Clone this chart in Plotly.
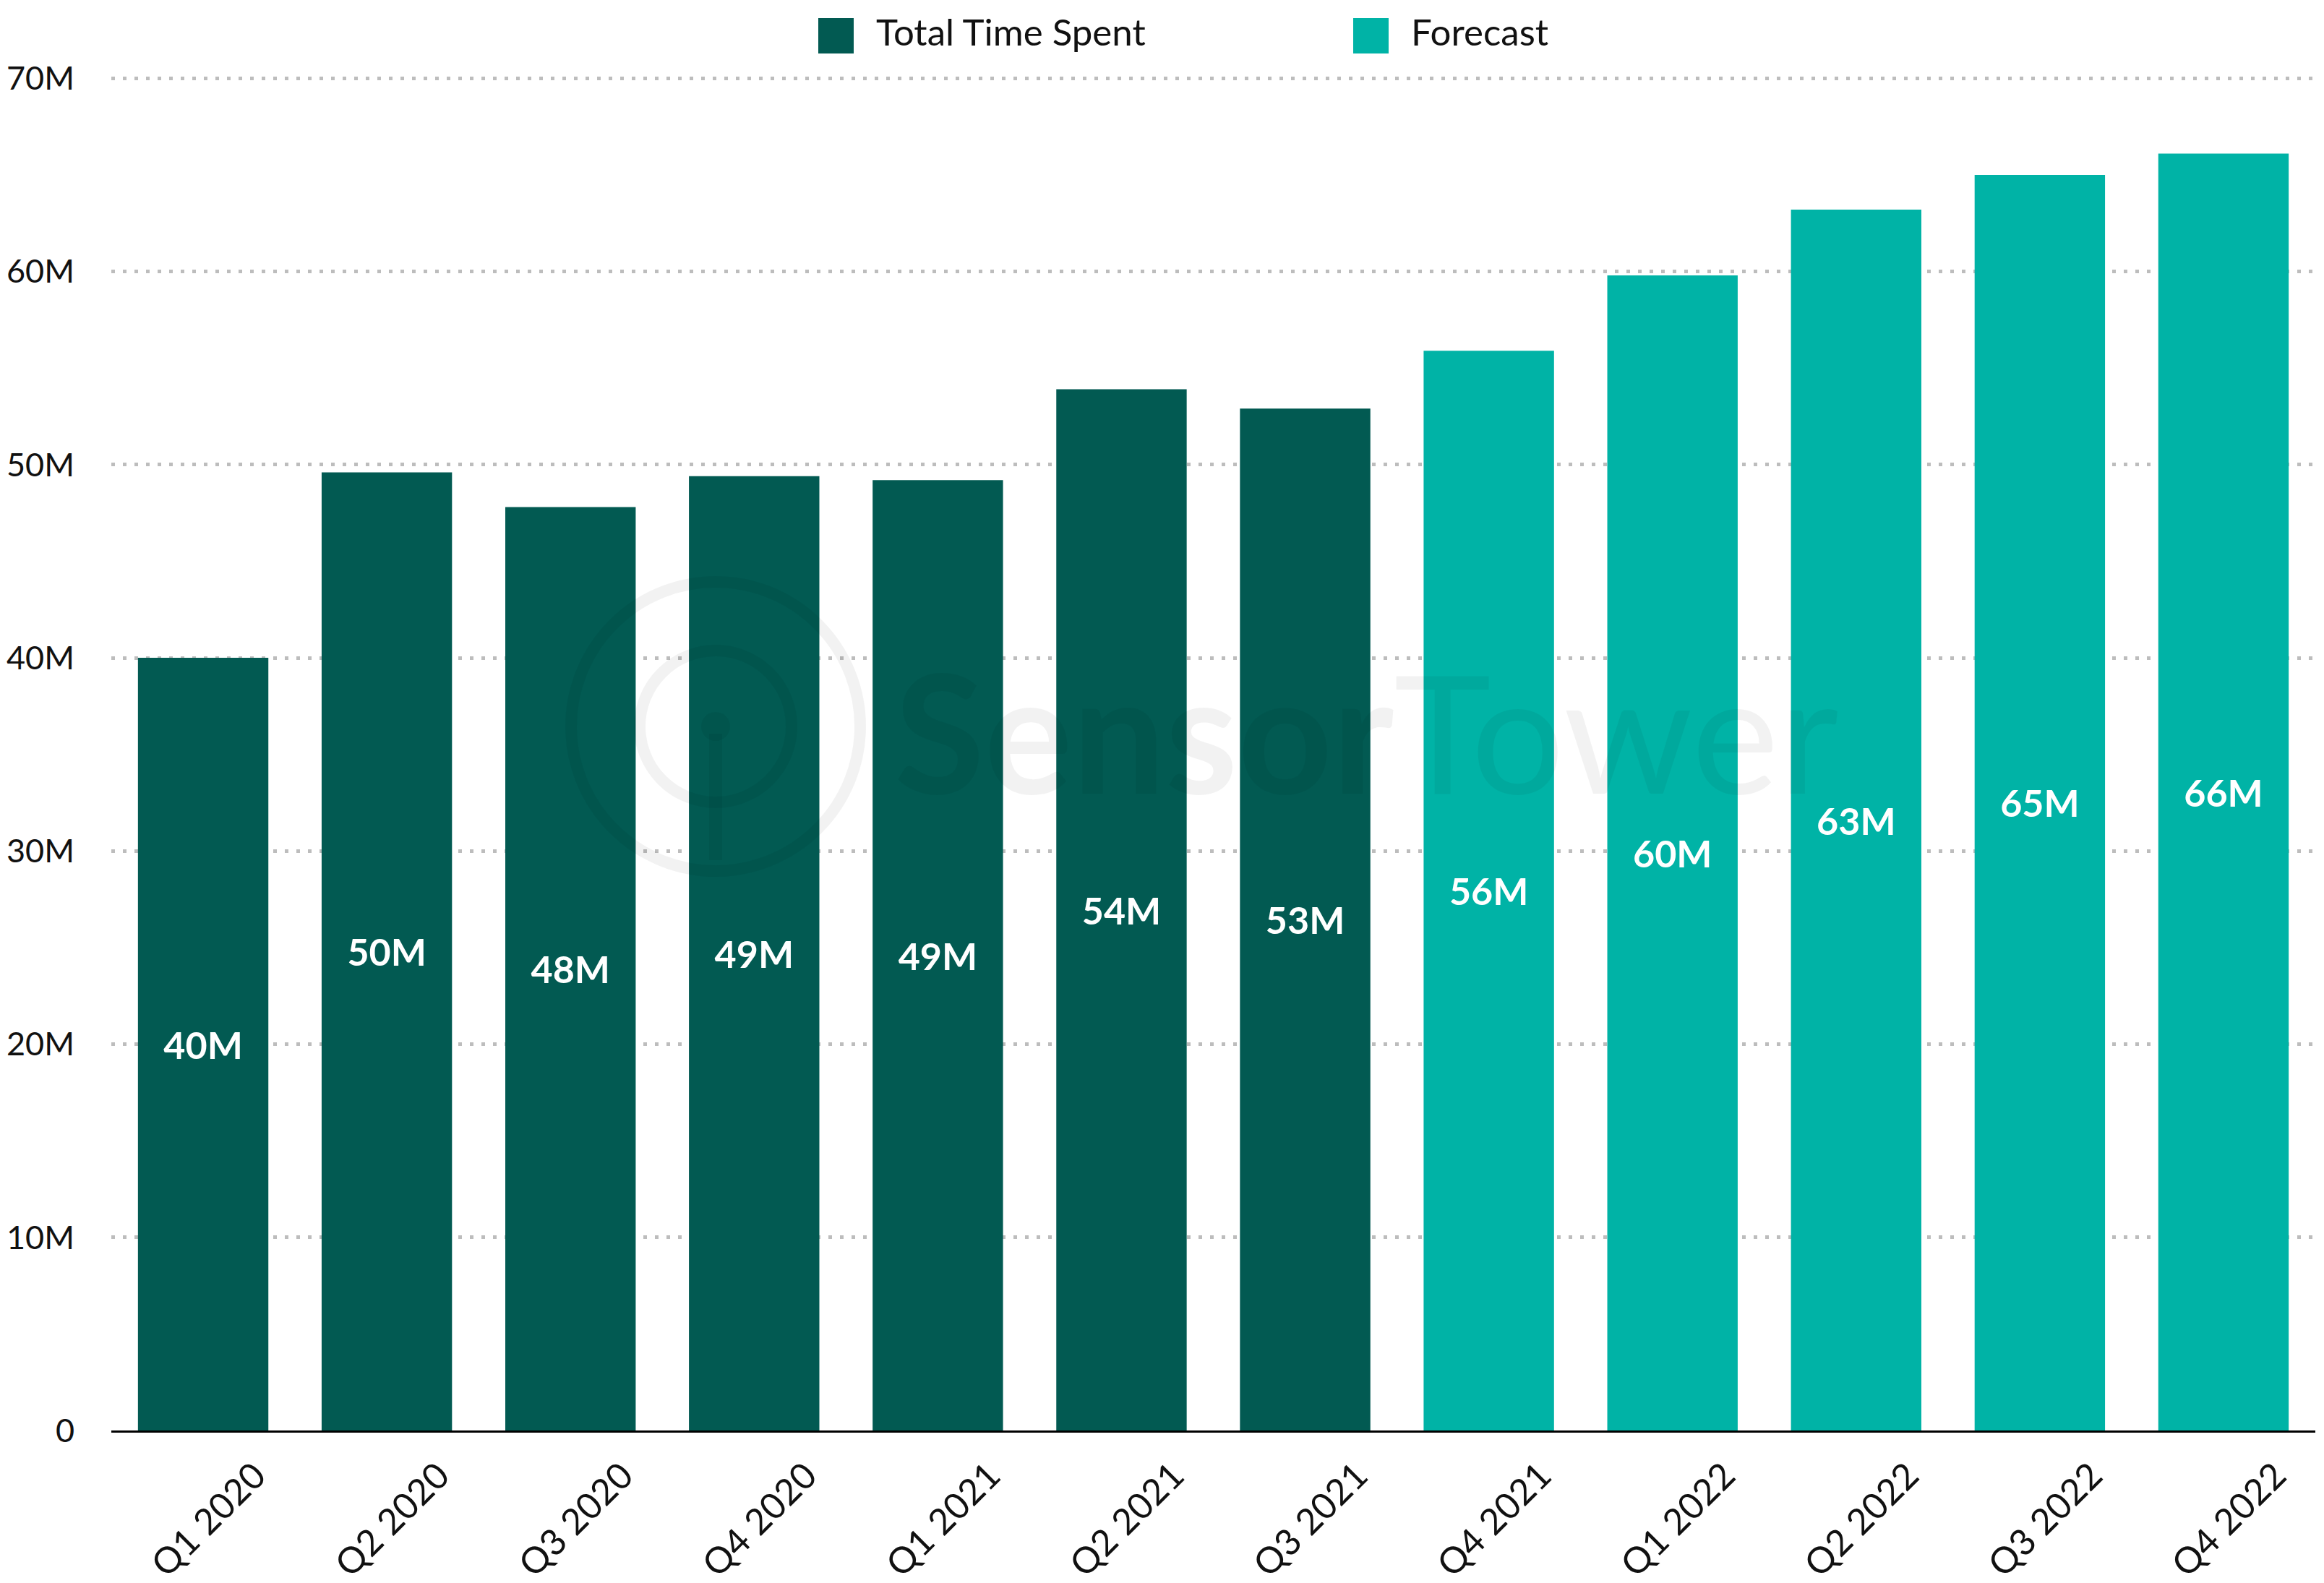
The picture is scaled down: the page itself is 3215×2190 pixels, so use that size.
import plotly.graph_objects as go

# ---- data ----
quarters_actual = ["Q1 2020", "Q2 2020", "Q3 2020", "Q4 2020", "Q1 2021", "Q2 2021", "Q3 2021"]
values_actual = [40.0, 49.6, 47.8, 49.4, 49.2, 53.9, 52.9]          # millions
quarters_forecast = ["Q4 2021", "Q1 2022", "Q2 2022", "Q3 2022", "Q4 2022"]
values_forecast = [55.9, 59.8, 63.2, 65.0, 66.1]                      # millions
series_names = ["Total Time Spent", "Forecast"]
y_tickvals = [0, 10, 20, 30, 40, 50, 60, 70]
y_ticktext = ["0", "10M", "20M", "30M", "40M", "50M", "60M", "70M"]

# ---- style ----
W, H = 3215, 2190
OFF = 8  # page body margin
# absolute (screen) plot-area edges
PL, PR, PT, PB = 154, 3203, 107, 1979
ML, MT = PL - OFF, PT - OFF
MR = W - (PR - OFF)
MB = H - (PB - OFF)
C_DARK = "#025A52"
C_FORE = "#00B3A6"
FONT = "Lato"
WM = "rgba(0,0,0,0.05)"

def pxx(px):
    return (px - PL) / (PR - PL)

def pxy(py):
    return (PB - py) / (PB - PT)

fig = go.Figure()
for xs, ys, name, col in [(quarters_actual, values_actual, series_names[0], C_DARK),
                          (quarters_forecast, values_forecast, series_names[1], C_FORE)]:
    fig.add_trace(go.Bar(
        x=xs, y=ys, name=name, marker=dict(color=col, line=dict(width=0)),
        texttemplate="%{y:.0f}M", textposition="inside", insidetextanchor="middle",
        textangle=0, textfont=dict(family=FONT, size=52, color="white", weight="bold"),
        showlegend=False, hoverinfo="skip",
    ))

shapes = []
annotations = []
# manual legend
legend_items = [(1132, 1181, 1210, series_names[0], C_DARK), (1872, 1921, 1950, series_names[1], C_FORE)]
for x0, x1, tx, name, col in legend_items:
    shapes.append(dict(type="rect", xref="paper", yref="paper", x0=pxx(x0), x1=pxx(x1),
                       y0=pxy(74), y1=pxy(25), fillcolor=col, line=dict(width=0), layer="above"))
    annotations.append(dict(xref="paper", yref="paper", x=pxx(tx), y=pxy(44), text=name,
                            showarrow=False, xanchor="left", yanchor="middle",
                            font=dict(family=FONT, size=51, color="#111111")))

# watermark
cx, cy = 990, 1005
for r, w in [(200, 16), (105, 16)]:
    shapes.append(dict(type="circle", xref="paper", yref="paper",
                       x0=pxx(cx - r), x1=pxx(cx + r), y0=pxy(cy + r), y1=pxy(cy - r),
                       line=dict(color=WM, width=w), fillcolor="rgba(0,0,0,0)", layer="above"))
shapes.append(dict(type="line", xref="paper", yref="paper", x0=pxx(cx), x1=pxx(cx),
                   y0=pxy(cy + 10), y1=pxy(cy + 185), line=dict(color=WM, width=18), layer="above"))
shapes.append(dict(type="circle", xref="paper", yref="paper",
                   x0=pxx(cx - 20), x1=pxx(cx + 20), y0=pxy(cy + 20), y1=pxy(cy - 20),
                   line=dict(width=0), fillcolor=WM, layer="above"))
annotations.append(dict(xref="paper", yref="paper", x=pxx(1235), y=pxy(1010),
                        text="<b>Sensor</b>Tower", showarrow=False, xanchor="left", yanchor="middle",
                        font=dict(family=FONT, size=228, color=WM)))

fig.update_layout(
    width=W, height=H,
    margin=dict(l=ML, r=MR, t=MT, b=MB, pad=0, autoexpand=False),
    paper_bgcolor="white", plot_bgcolor="white",
    barmode="overlay", bargap=0.29,
    shapes=shapes, annotations=annotations,
    font=dict(family=FONT, size=48, color="#111111"),
    xaxis=dict(
        categoryorder="array", categoryarray=quarters_actual + quarters_forecast,
        tickangle=-45, tickfont=dict(family=FONT, size=50, color="#111111"),
        showline=True, linecolor="black", linewidth=3, ticks="", showgrid=False,
        automargin=False, ticklabelshift=72, ticklabelstandoff=10,
    ),
    yaxis=dict(
        range=[0, 70.05], tickvals=y_tickvals, ticktext=y_ticktext,
        tickfont=dict(family=FONT, size=45, color="#111111"),
        showgrid=True, gridcolor="#BDBDBD", gridwidth=5, griddash="5px,11px",
        zeroline=False, showline=False, ticks="", ticklabelstandoff=50,
        automargin=False,
    ),
)

fig.write_html("out.html")
